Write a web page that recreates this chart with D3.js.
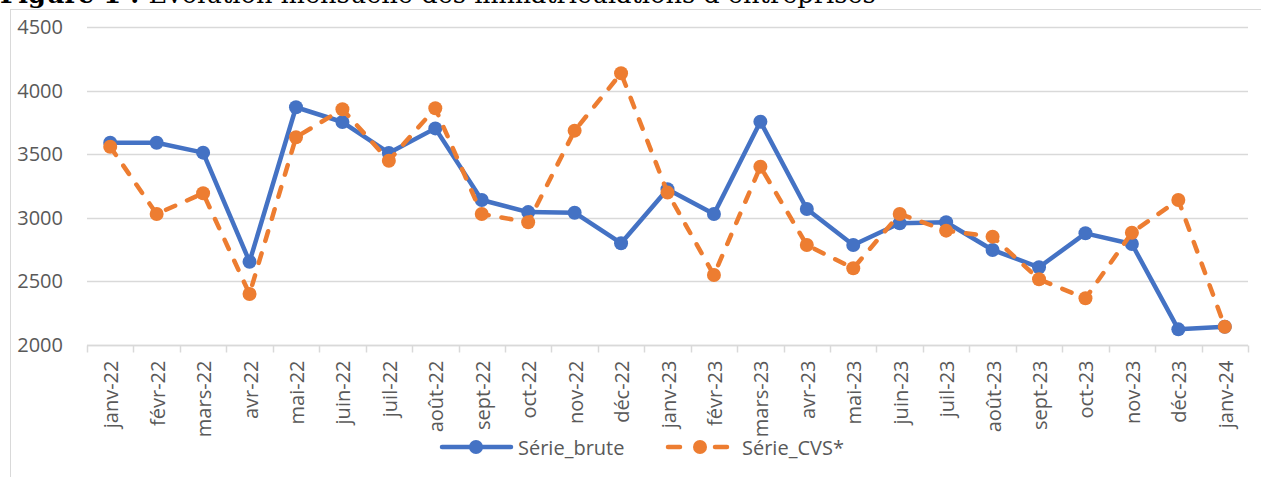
<!DOCTYPE html>
<html>
<head>
<meta charset="utf-8">
<script src="https://cdn.jsdelivr.net/npm/d3@7"></script>
<style>
  body { margin: 0; background: #fff; overflow: hidden; }
  svg { display: block; }
</style>
</head>
<body>
<svg width="1261" height="477"></svg>
<script>
// data
var months = ["janv-22","févr-22","mars-22","avr-22","mai-22","juin-22","juil-22","août-22","sept-22","oct-22","nov-22","déc-22",
              "janv-23","févr-23","mars-23","avr-23","mai-23","juin-23","juil-23","août-23","sept-23","oct-23","nov-23","déc-23","janv-24"];
var serieBrute = [3590,3590,3512,2655,3869,3753,3510,3703,3140,3045,3040,2800,
                  3224,3030,3756,3069,2786,2957,2965,2747,2611,2878,2794,2123,2144];
var serieCVS = [3559,3030,3193,2401,3633,3853,3449,3861,3030,2965,3685,4136,
                3198,2550,3402,2786,2603,3030,2899,2852,2517,2367,2883,3140,2144];
var yTicks = [2000,2500,3000,3500,4000,4500];

var svg = d3.select("svg"),
    width = +svg.attr("width"),
    height = +svg.attr("height");

var blue = "#4472C4", orange = "#ED7D31", grey = "#595959";
var fontSans = "Open Sans, sans-serif", fs = 20;

// title (cut off at the top, as in the source)
var title = svg.append("text")
    .attr("x", 0).attr("y", 3)
    .attr("font-family", "DejaVu Serif, serif")
    .attr("font-size", 20)
    .attr("fill", "#000");
title.append("tspan").attr("font-weight", "bold").text("Figure 1 : ");
title.append("tspan").text("Évolution mensuelle des immatriculations d’entreprises");
// stretch font so the title ends where it ends in the source
var tw = title.node().getComputedTextLength();
title.attr("font-size", 20 * 876 / tw);

// chart frame
svg.append("rect")
    .attr("x", 10.5).attr("y", 9.5)
    .attr("width", 1300).attr("height", 500)
    .attr("fill", "none")
    .attr("stroke", "#d9d9d9");

var pLeft = 87, pRight = 1248, pTop = 27, pBottom = 345;

var x = d3.scaleBand().domain(months).range([pLeft, pRight]);
var y = d3.scaleLinear().domain([2000, 4500]).range([pBottom, pTop]);

// gridlines
svg.append("g")
    .selectAll("line")
    .data(yTicks)
    .enter().append("line")
    .attr("x1", pLeft).attr("x2", pRight)
    .attr("y1", function(d) { return Math.round(y(d)) + 0.5; })
    .attr("y2", function(d) { return Math.round(y(d)) + 0.5; })
    .attr("stroke", "#d9d9d9")
    .attr("stroke-width", 1.5);

// y axis labels
var yAxis = svg.append("g")
    .attr("transform", "translate(" + pLeft + ",0)")
    .call(d3.axisLeft(y).tickValues(yTicks).tickSize(0).tickPadding(24).tickFormat(d3.format("d")));
yAxis.select(".domain").remove();
yAxis.selectAll("text")
    .attr("font-family", fontSans)
    .attr("font-size", fs)
    .attr("fill", grey);

// x axis with ticks at category boundaries
var xg = svg.append("g")
    .attr("transform", "translate(0," + (Math.round(pBottom) + 0.5) + ")");
xg.append("line")
    .attr("x1", pLeft).attr("x2", pRight)
    .attr("stroke", "#d9d9d9").attr("stroke-width", 1.5);
xg.selectAll(".tick")
    .data(months.concat(["end"]))
    .enter().append("line")
    .attr("x1", function(d, i) { return Math.round(pLeft + i * x.step()) + 0.5; })
    .attr("x2", function(d, i) { return Math.round(pLeft + i * x.step()) + 0.5; })
    .attr("y1", 0).attr("y2", 7)
    .attr("stroke", "#d9d9d9").attr("stroke-width", 1.5);
xg.selectAll(".lab")
    .data(months)
    .enter().append("text")
    .attr("transform", function(d) {
      return "translate(" + (x(d) + x.bandwidth() / 2 + 8) + ",15) rotate(-90)";
    })
    .attr("text-anchor", "end")
    .attr("font-family", fontSans)
    .attr("font-size", fs)
    .attr("fill", grey)
    .text(function(d) { return d; });

function cx(d, i) { return x(months[i]) + x.bandwidth() / 2; }

var line = d3.line()
    .x(function(d, i) { return cx(d, i); })
    .y(function(d) { return y(d); });

// Série_brute
svg.append("path")
    .datum(serieBrute)
    .attr("d", line)
    .attr("fill", "none")
    .attr("stroke", blue)
    .attr("stroke-width", 4.5)
    .attr("stroke-linejoin", "round");
svg.append("g").selectAll("circle")
    .data(serieBrute)
    .enter().append("circle")
    .attr("cx", cx)
    .attr("cy", function(d) { return y(d); })
    .attr("r", 7)
    .attr("fill", blue);

// Série_CVS*
svg.append("path")
    .datum(serieCVS)
    .attr("d", line)
    .attr("fill", "none")
    .attr("stroke", orange)
    .attr("stroke-width", 4.5)
    .attr("stroke-dasharray", "10,13")
    .attr("stroke-linecap", "round");
svg.append("g").selectAll("circle")
    .data(serieCVS)
    .enter().append("circle")
    .attr("cx", cx)
    .attr("cy", function(d) { return y(d); })
    .attr("r", 7)
    .attr("fill", orange);

// legend
var legend = svg.append("g").attr("transform", "translate(0,447)");
legend.append("line")
    .attr("x1", 442).attr("x2", 511).attr("y1", 0).attr("y2", 0)
    .attr("stroke", blue).attr("stroke-width", 4.5).attr("stroke-linecap", "round");
legend.append("circle").attr("cx", 476).attr("cy", 0).attr("r", 7).attr("fill", blue);
legend.append("text")
    .attr("x", 518).attr("y", 8)
    .attr("font-family", fontSans)
    .attr("font-size", fs).attr("fill", grey)
    .text("Série_brute");

legend.append("line")
    .attr("x1", 668).attr("x2", 727).attr("y1", 0).attr("y2", 0)
    .attr("stroke", orange).attr("stroke-width", 4.5)
    .attr("stroke-dasharray", "12,35").attr("stroke-linecap", "round");
legend.append("circle").attr("cx", 700).attr("cy", 0).attr("r", 7).attr("fill", orange);
legend.append("text")
    .attr("x", 742).attr("y", 8)
    .attr("font-family", fontSans)
    .attr("font-size", fs).attr("fill", grey)
    .text("Série_CVS*");
</script>
</body>
</html>
